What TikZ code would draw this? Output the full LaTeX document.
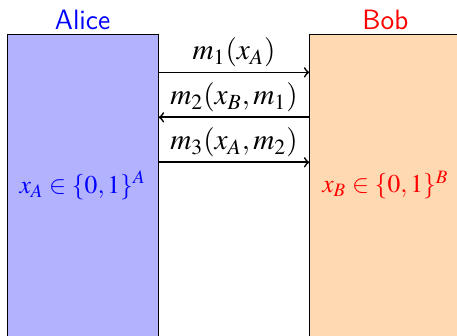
\documentclass[tikz,border=0pt]{standalone}
\usepackage{mathptmx}
\usetikzlibrary{positioning}
\tikzset{
  party/.style={draw=black,thin,minimum width=2.47cm,minimum height=4.94cm,inner sep=0pt,font=\fontsize{11.9}{14}\selectfont},
  partyname/.style={font=\fontsize{13}{15}\selectfont\sffamily,inner sep=1.5pt},
  msg/.style={thick,->},
  msglabel/.style={font=\fontsize{13.6}{16}\selectfont,above,inner sep=2pt}
}
\begin{document}
\begin{tikzpicture}
    \useasboundingbox (0,0) rectangle (7.47,5.48);
    \clip (0,0) rectangle (7.47,5.48);
    \node[party,fill=blue!30,text=blue,label={[partyname,text=blue]above:Alice}] (alice) at (1.35,2.45) {$x_A\in\{0,1\}^A$};
    \node[party,fill=orange!30,text=red,label={[partyname,text=red]above:Bob}] (bob) at (6.30,2.45) {$x_B\in\{0,1\}^B$};
    \draw[msg] ([yshift=-0.63cm]alice.north east) -- node[msglabel]{$m_1(x_A)$} ([yshift=-0.63cm]bob.north west);
    \draw[msg] ([yshift=-1.365cm]bob.north west) -- node[msglabel]{$m_2(x_B,m_1)$} ([yshift=-1.365cm]alice.north east);
    \draw[msg] ([yshift=-2.10cm]alice.north east) -- node[msglabel]{$m_3(x_A,m_2)$} ([yshift=-2.10cm]bob.north west);
  \end{tikzpicture}
\end{document}
